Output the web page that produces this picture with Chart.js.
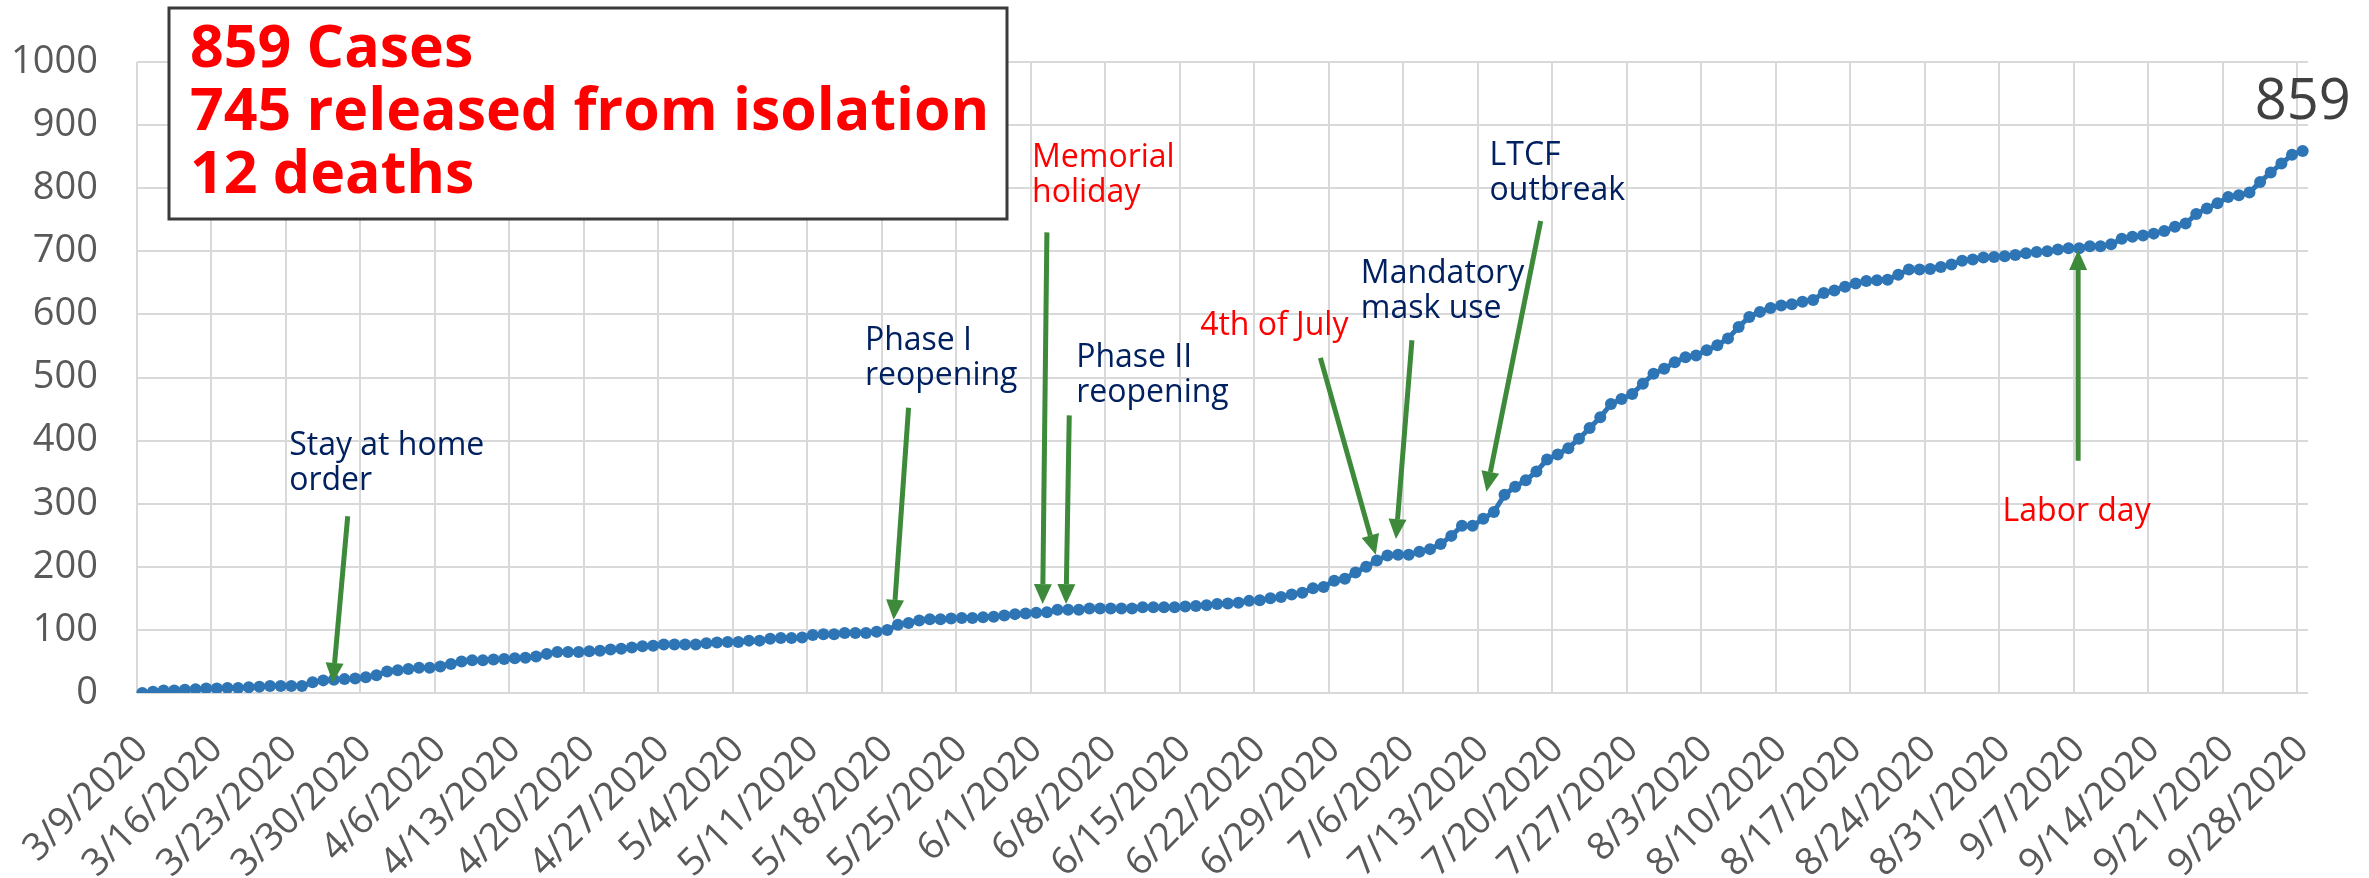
<!DOCTYPE html>
<html>
<head>
<meta charset="utf-8">
<script src="https://cdn.jsdelivr.net/npm/chart.js@4.4.1/dist/chart.umd.min.js"></script>
<style>
  html, body { margin: 0; padding: 0; background: #fff; }
  canvas { display: block; }
</style>
</head>
<body>
<canvas id="myChart" width="2369" height="878"></canvas>
<script>
// cumulative cases, one value per day from 3/9/2020 to 9/28/2020
var marchCases = [0,2,4,4,5,6,7,7,8,8,9,10,11,11,11,11,17,20,21,22,23,25,28];
var aprilCases = [34,36,38,40,40,42,46,50,52,52,53,54,55,56,58,62,65,65,65,66,67,69,70,72,74,75,77,77,77,77];
var mayCases = [79,80,81,81,83,83,86,87,87,88,92,93,93,95,95,95,97,100,108,111,115,117,117,118,119,119,120,121,123,125,126];
var juneCases = [127,128,132,132,132,134,134,134,134,134,136,136,136,136,137,138,139,141,142,143,146,147,150,152,156,159,166,168,178,181];
var julyCases = [191,200,210,218,219,219,224,228,236,249,265,265,276,287,314,327,337,351,370,378,388,403,420,437,458,466,474,490,506,514,524];
var augustCases = [532,535,543,551,562,580,596,604,610,614,616,620,623,634,638,644,649,653,654,655,663,671,671,672,675,679,685,687,690,691,692];
var septemberCases = [694,697,699,700,703,705,705,708,708,711,720,723,725,728,732,739,744,759,768,776,786,789,793,810,825,839,853,859];

var firstDay = new Date(2020, 2, 9);
var labelEvery = 7;
var yMin = 0, yMax = 1000, yStep = 100;

var summaryLines = ['859 Cases', '745 released from isolation', '12 deaths'];

var navy = '#002060';
var red = '#FF0000';
var arrowColor = '#3C8A3A';

// notes: text anchor and arrow are given in chart units (day index, cases)
var notes = [
  { lines: ['Stay at home', 'order'], color: navy, at: [13.8, 377], from: [19.3, 280], to: [17.9, 16] },
  { lines: ['Phase I', 'reopening'], color: navy, at: [67.9, 544], from: [72.0, 452], to: [70.6, 116] },
  { lines: ['Memorial', 'holiday'], color: red, at: [83.6, 834], from: [85.0, 730], to: [84.6, 141] },
  { lines: ['Phase II', 'reopening'], color: navy, at: [87.75, 517], from: [87.1, 440], to: [86.8, 141] },
  { lines: ['4th of July'], color: red, at: [99.4, 567], from: [110.7, 531], to: [115.9, 219] },
  { lines: ['Mandatory', 'mask use'], color: navy, at: [114.5, 650], from: [119.3, 559], to: [117.8, 244] },
  { lines: ['LTCF', 'outbreak'], color: navy, at: [126.6, 837], from: [131.4, 748], to: [126.3, 319] },
  { lines: ['Labor day'], color: red, at: [174.8, 272], from: [181.9, 368], to: [181.9, 702] }
];

var cases = [].concat(marchCases, aprilCases, mayCases, juneCases, julyCases, augustCases, septemberCases);
var days = [];
for (var i = 0; i < cases.length; i++) {
  var d = new Date(firstDay.getFullYear(), firstDay.getMonth(), firstDay.getDate() + i);
  days.push((d.getMonth() + 1) + '/' + d.getDate() + '/' + d.getFullYear());
}

function drawArrow(ctx, x1, y1, x2, y2) {
  var ang = Math.atan2(y2 - y1, x2 - x1);
  var headLen = 20, headW = 9;
  var bx = x2 - headLen * Math.cos(ang), by = y2 - headLen * Math.sin(ang);
  ctx.strokeStyle = arrowColor;
  ctx.lineWidth = 5;
  ctx.beginPath();
  ctx.moveTo(x1, y1);
  ctx.lineTo(bx, by);
  ctx.stroke();
  ctx.fillStyle = arrowColor;
  ctx.beginPath();
  ctx.moveTo(x2, y2);
  ctx.lineTo(bx + headW * Math.sin(ang), by - headW * Math.cos(ang));
  ctx.lineTo(bx - headW * Math.sin(ang), by + headW * Math.cos(ang));
  ctx.closePath();
  ctx.fill();
}

var notesPlugin = {
  id: 'notes',
  afterDatasetsDraw: function (chart) {
    var ctx = chart.ctx;
    var xs = chart.scales.x, ys = chart.scales.y;
    ctx.save();

    notes.forEach(function (n) {
      drawArrow(ctx, xs.getPixelForValue(n.from[0]), ys.getPixelForValue(n.from[1]),
        xs.getPixelForValue(n.to[0]), ys.getPixelForValue(n.to[1]));
      ctx.fillStyle = n.color;
      ctx.font = '32px "Open Sans"';
      ctx.textAlign = 'left';
      ctx.textBaseline = 'alphabetic';
      var tx = xs.getPixelForValue(n.at[0]), ty = ys.getPixelForValue(n.at[1]);
      n.lines.forEach(function (t, k) { ctx.fillText(t, tx, ty + k * 35); });
    });

    // summary box
    ctx.fillStyle = '#fff';
    ctx.fillRect(169, 8, 838, 211);
    ctx.strokeStyle = '#3a3a3a';
    ctx.lineWidth = 3;
    ctx.strokeRect(169, 8, 838, 211);
    ctx.fillStyle = red;
    ctx.font = 'bold 59px "Open Sans"';
    summaryLines.forEach(function (t, k) { ctx.fillText(t, 190, 67 + k * 63); });

    // value label on the last point
    var meta = chart.getDatasetMeta(0);
    var last = meta.data[meta.data.length - 1];
    ctx.fillStyle = '#404040';
    ctx.font = '56px "Open Sans"';
    ctx.textAlign = 'center';
    ctx.fillText(String(cases[cases.length - 1]), last.x, last.y - 32);
    ctx.restore();
  }
};

function makeChart() {
  var ctx = document.getElementById('myChart').getContext('2d');
  new Chart(ctx, {
    type: 'line',
    data: {
      labels: days,
      datasets: [{
        data: cases,
        borderColor: '#2E75B6',
        backgroundColor: '#2E75B6',
        borderWidth: 5,
        pointRadius: 6,
        pointBorderWidth: 0,
        pointBackgroundColor: '#2E75B6',
        tension: 0
      }]
    },
    options: {
      responsive: false,
      animation: false,
      devicePixelRatio: 1,
      layout: { padding: { top: 62, right: 61, left: 0, bottom: 0 } },
      plugins: { legend: { display: false }, tooltip: { enabled: false } },
      scales: {
        x: {
          offset: true,
          border: { display: false },
          grid: {
            offset: true,
            drawTicks: false,
            lineWidth: 2,
            color: function (c) {
              return (c.index !== undefined && c.index % labelEvery === 0) ? '#D9D9D9' : 'rgba(0,0,0,0)';
            }
          },
          ticks: {
            autoSkip: false,
            maxRotation: 45,
            minRotation: 45,
            padding: 34,
            color: '#595959',
            font: { family: 'Open Sans', size: 38 },
            callback: function (v, idx) { return idx % labelEvery === 0 ? days[idx] : ''; }
          },
          afterFit: function (s) {
            s.height = 185;
            s.paddingLeft = 0;
            s.paddingRight = 0;
          }
        },
        y: {
          min: yMin,
          max: yMax,
          border: { display: false },
          grid: { drawTicks: false, lineWidth: 2, color: '#D9D9D9' },
          ticks: {
            stepSize: yStep,
            padding: 39,
            color: '#595959',
            font: { family: 'Open Sans', size: 38 },
            callback: function (v) { return String(v); }
          },
          afterFit: function (s) { s.width = 137; }
        }
      }
    },
    plugins: [notesPlugin]
  });
}

makeChart();
</script>
</body>
</html>
